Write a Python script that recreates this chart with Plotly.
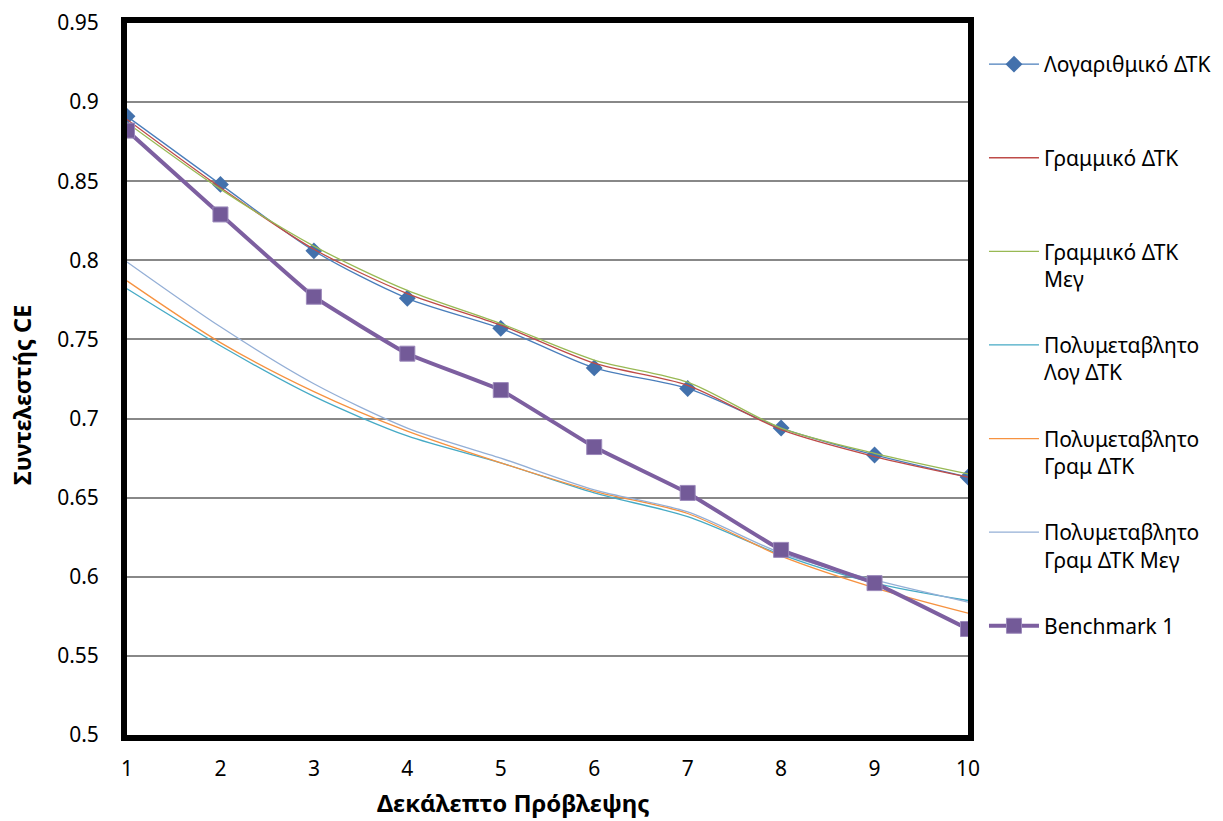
import plotly.graph_objects as go

deciles = [1, 2, 3, 4, 5, 6, 7, 8, 9, 10]

log_dtk = [0.891, 0.848, 0.806, 0.776, 0.757, 0.732, 0.719, 0.694, 0.677, 0.663]
lin_dtk = [0.889, 0.846, 0.807, 0.779, 0.759, 0.735, 0.721, 0.693, 0.676, 0.663]
lin_dtk_meg = [0.887, 0.845, 0.809, 0.781, 0.760, 0.737, 0.723, 0.694, 0.678, 0.665]
multi_log = [0.782, 0.746, 0.714, 0.689, 0.672, 0.653, 0.638, 0.614, 0.596, 0.585]
multi_lin = [0.787, 0.748, 0.717, 0.692, 0.672, 0.654, 0.640, 0.613, 0.593, 0.577]
multi_lin_meg = [0.799, 0.758, 0.722, 0.694, 0.675, 0.655, 0.641, 0.615, 0.598, 0.584]
benchmark = [0.882, 0.829, 0.777, 0.741, 0.718, 0.682, 0.653, 0.617, 0.596, 0.567]

names = [
    "Λογαριθμικό ΔΤΚ<br> ",
    "Γραμμικό ΔΤΚ<br> ",
    "Γραμμικό ΔΤΚ<br>Μεγ",
    "Πολυμεταβλητο<br>Λογ ΔΤΚ",
    "Πολυμεταβλητο<br>Γραμ ΔΤΚ",
    "Πολυμεταβλητο<br>Γραμ ΔΤΚ Μεγ",
    "Benchmark 1<br> ",
]
ytick_vals = [0.5, 0.55, 0.6, 0.65, 0.7, 0.75, 0.8, 0.85, 0.9, 0.95]
ytick_text = ["0.5", "0.55", "0.6", "0.65", "0.7", "0.75", "0.8", "0.85", "0.9", "0.95"]
x_title = "Δεκάλεπτο Πρόβλεψης"
y_title = "Συντελεστής CE"

FONT = "Noto Sans"
fig = go.Figure()

def add_line(y, name, color, width=1.3, marker=None, lg=""):
    fig.add_trace(go.Scatter(
        x=deciles, y=y, name=name, legendgroup=lg,
        mode="lines+markers" if marker else "lines",
        line=dict(color=color, width=width, shape="spline", smoothing=0.8),
        marker=marker,
    ))

add_line(log_dtk, names[0], "#4A7EBB", 1.3,
         dict(symbol="diamond", size=13, color="#4371AC", line=dict(width=0)), "g0")
add_line(lin_dtk, names[1], "#BE4B48", 1.3, None, "g1")
add_line(lin_dtk_meg, names[2], "#98B954", 1.3, None, "g2")
add_line(multi_log, names[3], "#46AAC5", 1.3, None, "g3")
add_line(multi_lin, names[4], "#F69240", 1.3, None, "g4")
add_line(multi_lin_meg, names[5], "#94AFD6", 1.3, None, "g5")
fig.add_trace(go.Scatter(
    x=deciles, y=benchmark, name=names[6], legendgroup="g6",
    mode="lines+markers",
    line=dict(color="#7D5FA0", width=4, shape="spline", smoothing=0.3),
    marker=dict(symbol="square", size=15, color="#735A98", line=dict(width=1, color="#9C89BB")),
))

fig.update_layout(
    width=1223, height=821,
    margin=dict(l=127, r=255, t=23, b=86, autoexpand=False),
    paper_bgcolor="white", plot_bgcolor="white",
    font=dict(family=FONT, size=21, color="black"),
    xaxis=dict(
        range=[1, 10], tickvals=deciles, ticktext=[str(d) for d in deciles],
        showgrid=False, zeroline=False, automargin=False,
        showline=True, linewidth=6, linecolor="black", mirror=True,
        ticks="", ticklabelstandoff=10,
        tickfont=dict(size=21),
    ),
    yaxis=dict(
        range=[0.5, 0.95], tickvals=ytick_vals, ticktext=ytick_text,
        showgrid=True, gridcolor="#888888", gridwidth=2,
        zeroline=False, automargin=False,
        showline=True, linewidth=6, linecolor="black", mirror=True,
        ticks="", ticklabelstandoff=18,
        tickfont=dict(size=21),
    ),
    legend=dict(
        x=1.019, xanchor="left", y=0.9705, yanchor="top",
        font=dict(size=21), valign="top",
        tracegroupgap=36, itemwidth=50,
        bgcolor="rgba(0,0,0,0)",
    ),
    showlegend=True,
    annotations=[
        dict(text="<b>" + x_title + "</b>", xref="paper", yref="paper",
             x=0.459, y=-0.0955, xanchor="center", yanchor="middle",
             showarrow=False, font=dict(size=24)),
        dict(text="<b>" + y_title + "</b>", xref="paper", yref="paper",
             x=-0.1249, y=0.4775, xanchor="center", yanchor="middle",
             textangle=-90, showarrow=False, font=dict(size=23.5)),
    ],
)

fig.write_html("out.html")
